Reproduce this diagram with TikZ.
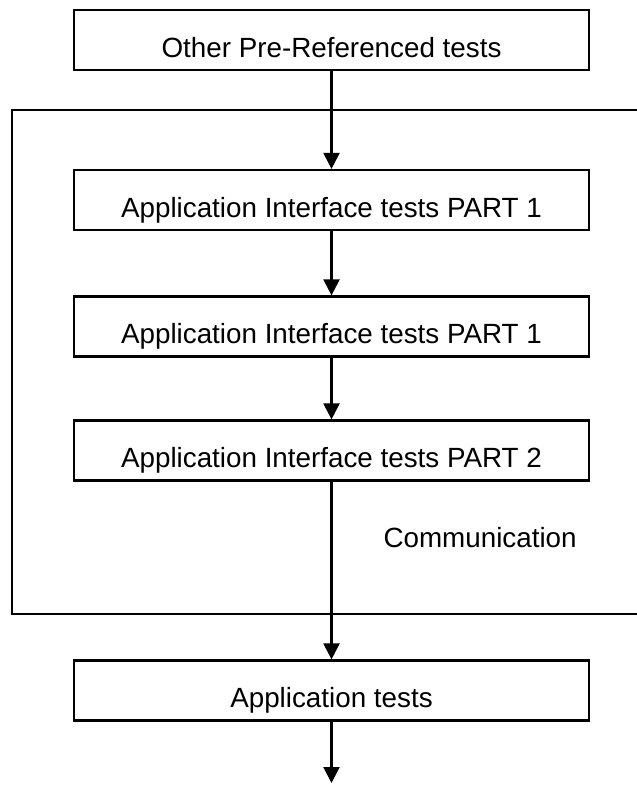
\documentclass[tikz,border=0pt]{standalone}
\usepackage{fontspec}
\setmainfont{Liberation Sans}
\usetikzlibrary{arrows.meta}
\begin{document}
\begin{tikzpicture}
	[	x=1pt,y=-1pt,
	box/.style={rectangle,draw=black,line width=2.2pt,minimum width=515pt,minimum height=60pt,inner sep=0pt,text height=34pt,text depth=0pt,font=\fontsize{27.8}{33}\selectfont},
	plain/.style={draw=none,fill=none,font=\fontsize{27.8}{33}\selectfont},
	flow/.style={-{Triangle[width=16pt,length=16pt]},line width=2.2pt}
	]
	\useasboundingbox (0,0) rectangle (637,785);
	\draw[line width=2.2pt] (12,110) rectangle (660,614);

	\node[box] (other) at (331.5,40){Other Pre-Referenced tests};
	\node[box] (aipa) at (331.5,200){Application Interface tests PART 1};
	\node[box] (aipb) at (331.5,326.5){Application Interface tests PART 1};
	\node[box] (aipc) at (331.5,450.5){Application Interface tests PART 2};
	\node[box] (app) at (331.5,690.5){Application tests};

\node[plain,anchor=base west] (comm) at (380,547){Communication};
\coordinate (out) at (331.5,783);
	\draw[flow] (other) -- (aipa);
	\draw[flow] (aipa) -- (aipb);
	\draw[flow] (aipb) -- (aipc);
	\draw[flow] (aipc) -- (app);
	\draw[flow] (app) -- (out);
\end{tikzpicture}
\end{document}
